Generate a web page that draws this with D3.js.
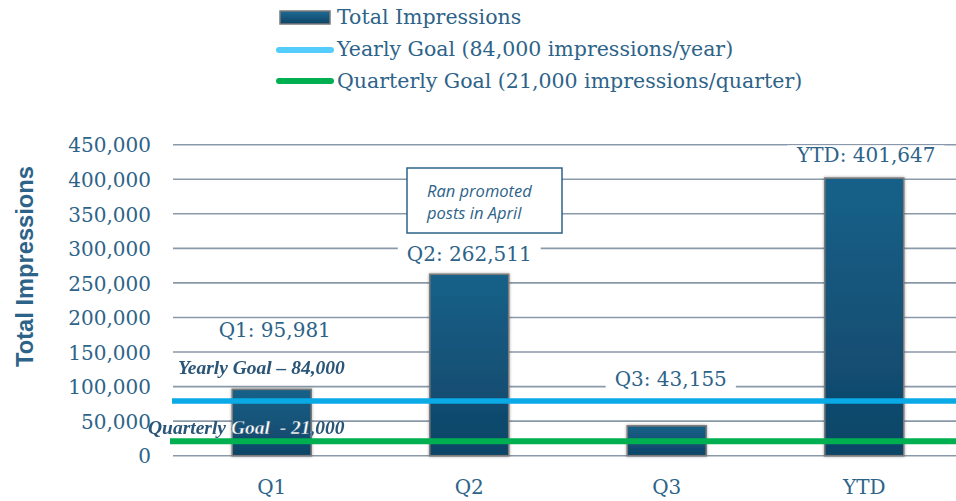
<!DOCTYPE html>
<html><head><meta charset="utf-8">
<script src="https://cdn.jsdelivr.net/npm/d3@7"></script>
<style>
html,body{margin:0;padding:0;background:#fff;}
svg{display:block;}
</style></head>
<body>
<svg id="chart" width="956" height="501"></svg>
<script>
const categories = ["Q1", "Q2", "Q3", "YTD"];
const impressions = [95981, 262511, 43155, 401647];
const valueLabels = ["Q1: 95,981", "Q2: 262,511", "Q3: 43,155", "YTD: 401,647"];
const yTicks = [0, 50000, 100000, 150000, 200000, 250000, 300000, 350000, 400000, 450000];
const yearlyGoalLine = 79000;
const quarterlyGoalLine = 21000;
const legendLabels = ["Total Impressions", "Yearly Goal (84,000 impressions/year)", "Quarterly Goal (21,000 impressions/quarter)"];
const goalLabels = ["Yearly Goal \u2013 84,000", "Quarterly Goal  - 21,000"];
const noteLines = ["Ran promoted", "posts in April"];
const yTitle = "Total Impressions";

const textColor = "#2d6388";
const serif = "'DejaVu Serif', serif";
const svg = d3.select("#chart");
const defs = svg.append("defs");

const grad = defs.append("linearGradient").attr("id", "barGrad").attr("x1", 0).attr("y1", 0).attr("x2", 0).attr("y2", 1);
grad.append("stop").attr("offset", "0%").attr("stop-color", "#186189");
grad.append("stop").attr("offset", "100%").attr("stop-color", "#0f4466");
const lgrad = defs.append("linearGradient").attr("id", "legGrad").attr("x1", 0).attr("y1", 0).attr("x2", 0).attr("y2", 1);
lgrad.append("stop").attr("offset", "0%").attr("stop-color", "#1d6a95");
lgrad.append("stop").attr("offset", "100%").attr("stop-color", "#0f4466");
const shadow = defs.append("filter").attr("id", "shadow").attr("x", "-20%").attr("y", "-20%").attr("width", "140%").attr("height", "140%");
shadow.append("feDropShadow").attr("dx", 0).attr("dy", 0).attr("stdDeviation", 1.5).attr("flood-color", "#000").attr("flood-opacity", 0.35);

const x = d3.scaleBand().domain(categories).range([173, 963]).paddingInner(0.6).paddingOuter(0.3);
const y = d3.scaleLinear().domain([0, 450000]).range([455.7, 144.7]);

// gridlines
svg.append("g").selectAll("line").data(yTicks).join("line")
  .attr("x1", 173).attr("x2", 956)
  .attr("y1", d => y(d)).attr("y2", d => y(d))
  .attr("stroke", "#8a99a9").attr("stroke-width", 1.6);

// y axis tick labels
const yAxis = d3.axisLeft(y).tickValues(yTicks).tickFormat(d3.format(",")).tickSize(0).tickPadding(0);
const yg = svg.append("g").attr("transform", "translate(151,0)").call(yAxis);
yg.select(".domain").remove();
yg.selectAll("text").attr("font-family", serif).attr("font-size", 20).attr("fill", textColor).attr("dy", "0.36em");

// y title
svg.append("text").attr("transform", "translate(33,266.5) rotate(-90)")
  .attr("text-anchor", "middle").attr("font-family", "'Liberation Sans', Arial, sans-serif")
  .attr("font-weight", "bold").attr("font-size", 23.7).attr("fill", textColor).text(yTitle);

// x axis labels
const xAxis = d3.axisBottom(x).tickSize(0).tickPadding(0);
const xg = svg.append("g").attr("transform", "translate(0,494)").call(xAxis);
xg.select(".domain").remove();
xg.selectAll("text").attr("font-family", serif).attr("font-size", 20).attr("fill", textColor).attr("y", 0).attr("dy", 0);

// bars
const barData = categories.map((c, i) => ({c, v: impressions[i], label: valueLabels[i], i}));
svg.append("g").selectAll("rect").data(barData).join("rect")
  .attr("x", d => x(d.c)).attr("width", x.bandwidth())
  .attr("y", d => y(d.v)).attr("height", d => y(0) - y(d.v))
  .attr("fill", "url(#barGrad)").attr("stroke", "#7a7a7a").attr("stroke-width", 1.6)
  .attr("filter", "url(#shadow)");

// clip for bars and mask outside bars (for goal label colouring)
const cp = defs.append("clipPath").attr("id", "barClip");
cp.selectAll("rect").data(barData).join("rect")
  .attr("x", d => x(d.c)).attr("width", x.bandwidth())
  .attr("y", d => y(d.v)).attr("height", d => y(0) - y(d.v));
const mask = defs.append("mask").attr("id", "outsideBars").attr("maskUnits", "userSpaceOnUse")
  .attr("x", 0).attr("y", 0).attr("width", 956).attr("height", 501);
mask.append("rect").attr("x", 0).attr("y", 0).attr("width", 956).attr("height", 501).attr("fill", "#fff");
mask.selectAll("rect.b").data(barData).join("rect").attr("class", "b")
  .attr("x", d => x(d.c)).attr("width", x.bandwidth())
  .attr("y", d => y(d.v)).attr("height", d => y(0) - y(d.v)).attr("fill", "#000");

// goal lines
svg.append("line").attr("x1", 172).attr("x2", 956).attr("y1", y(yearlyGoalLine)).attr("y2", y(yearlyGoalLine))
  .attr("stroke", "#0aaae6").attr("stroke-width", 5.5);
svg.append("line").attr("x1", 170).attr("x2", 956).attr("y1", y(quarterlyGoalLine)).attr("y2", y(quarterlyGoalLine))
  .attr("stroke", "#00b050").attr("stroke-width", 6);

// value labels with white background
const labelOffsets = [60, 20, 47, 23];
const labelShift = [3, 0, 4, 2];
const lg = svg.append("g");
barData.forEach(d => {
  const cx = x(d.c) + x.bandwidth() / 2 + labelShift[d.i];
  const cy = y(d.v) - labelOffsets[d.i];
  const g = lg.append("g");
  const t = g.append("text").attr("x", cx).attr("y", cy).attr("dy", "0.36em")
    .attr("text-anchor", "middle").attr("font-family", serif).attr("font-size", 20)
    .attr("fill", textColor).text(d.label);
  const bb = t.node().getBBox();
  g.insert("rect", "text").attr("x", bb.x - 9).attr("width", bb.width + 18)
    .attr("y", bb.y + 2).attr("height", bb.height - 4).attr("fill", "#fff");
});

// goal labels
const goalStyle = sel => sel.attr("font-family", "'Liberation Serif', serif").attr("font-size", 19.5)
  .attr("font-weight", "bold").attr("font-style", "italic").style("white-space", "pre");
const goalPos = [[178, 374], [148, 434]];
goalLabels.forEach((txt, i) => {
  svg.append("text").attr("x", goalPos[i][0]).attr("y", goalPos[i][1]).call(goalStyle)
    .attr("fill", "#2a5577").attr("mask", "url(#outsideBars)").text(txt);
  svg.append("text").attr("x", goalPos[i][0]).attr("y", goalPos[i][1]).call(goalStyle)
    .attr("fill", "#fff").attr("stroke", "#2a5577").attr("stroke-width", 0.4)
    .attr("clip-path", "url(#barClip)").text(txt);
});

// note box
svg.append("rect").attr("x", 407).attr("y", 168).attr("width", 155).attr("height", 65)
  .attr("fill", "#fff").attr("stroke", "#2d6388").attr("stroke-width", 1.5);
noteLines.forEach((t, i) => {
  svg.append("text").attr("x", 427).attr("y", 191 + i * 22).attr("dy", "0.35em")
    .attr("font-family", "'Open Sans', sans-serif").attr("font-style", "italic")
    .attr("font-size", 16.5).attr("fill", "#2d6388").text(t);
});

// legend
const leg = svg.append("g");
leg.append("rect").attr("x", 280).attr("y", 11).attr("width", 50).attr("height", 13)
  .attr("fill", "url(#legGrad)").attr("stroke", "#7a7a7a").attr("stroke-width", 1.5);
leg.append("line").attr("x1", 279).attr("x2", 331).attr("y1", 50).attr("y2", 50)
  .attr("stroke", "#55cdfc").attr("stroke-width", 6).attr("stroke-linecap", "round");
leg.append("line").attr("x1", 279).attr("x2", 331).attr("y1", 81).attr("y2", 81)
  .attr("stroke", "#00b050").attr("stroke-width", 6).attr("stroke-linecap", "round");
legendLabels.forEach((t, i) => {
  leg.append("text").attr("x", 337).attr("y", 17 + i * 32).attr("dy", "0.36em")
    .attr("font-family", serif).attr("font-size", 20.5).attr("fill", textColor).text(t);
});
</script>
</body></html>
